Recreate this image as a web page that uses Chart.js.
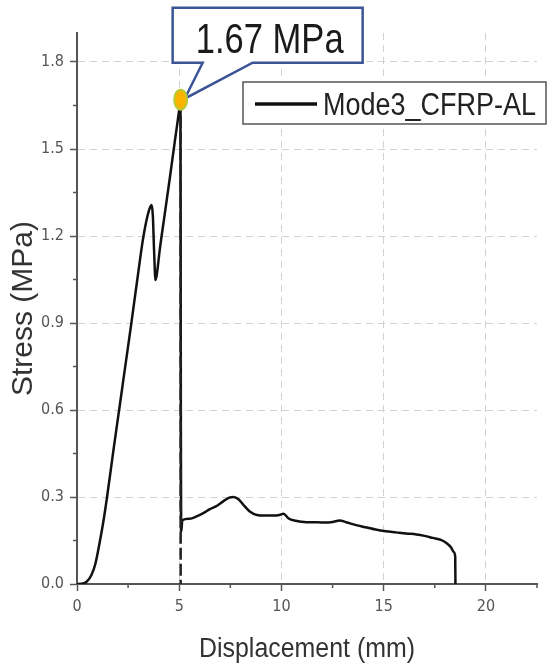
<!DOCTYPE html>
<html>
<head>
<meta charset="utf-8">
<script src="https://cdn.jsdelivr.net/npm/chart.js@4"></script>
<style>
    html, body { margin: 0; padding: 0; background: #fff; }
    #wrap { width: 549px; height: 666px; }
</style>
</head>
<body>
<div id="wrap"><canvas id="stress-chart" width="549" height="666"></canvas></div>
<script>
const seriesLabel = "Mode3_CFRP-AL";
const xTitle = "Displacement (mm)";
const yTitle = "Stress (MPa)";

const displacement = [
    0, 0.3, 0.5, 0.7, 0.9, 1.1, 1.3, 1.47, 1.8, 2.1, 2.4, 2.64, 2.95, 3.23, 3.45, 3.58, 3.65,
    3.71, 3.77, 3.84, 3.9, 4.05, 4.25, 4.54, 4.8, 4.98, 5.06,
    5.08, 5.1, 5.15, 5.5, 5.85, 6.2, 6.5, 6.85, 7.15, 7.45, 7.65, 7.9, 8.15, 8.45, 8.8,
    9.2, 9.6, 9.9, 10.1, 10.35, 10.7, 11.1, 11.6, 12.1, 12.5, 12.85, 13.2, 13.65, 14.1,
    14.6, 15.1, 15.6, 16.1, 16.6, 17.0, 17.4, 17.8, 18.1, 18.3, 18.43, 18.5, 18.51
];
const stress = [
    0, 0.002, 0.01, 0.03, 0.07, 0.14, 0.22, 0.30, 0.47, 0.62, 0.77, 0.89, 1.05, 1.19, 1.27, 1.30, 1.307,
    1.27, 1.15, 1.048, 1.065, 1.154, 1.255, 1.40, 1.534, 1.625, 1.67,
    0.60, 0.18, 0.22, 0.225, 0.233, 0.245, 0.258, 0.27, 0.285, 0.298, 0.30, 0.292, 0.272, 0.25, 0.238,
    0.236, 0.236, 0.238, 0.242, 0.226, 0.218, 0.214, 0.213, 0.212, 0.214, 0.219, 0.212, 0.203, 0.196,
    0.188, 0.182, 0.178, 0.174, 0.171, 0.166, 0.159, 0.152, 0.14, 0.126, 0.11, 0.094, 0
];

const xTicks = [0, 5, 10, 15, 20];
const xMinorTicks = [2.5, 7.5, 12.5, 17.5, 22.5];
const yTicks = [0, 0.3, 0.6, 0.9, 1.2, 1.5, 1.8];
const yMinorTicks = [0.15, 0.45, 0.75, 1.05, 1.35, 1.65];

const peakX = 5.07;
const peakY = 1.67;
const peakText = "1.67 MPa";

const sansFont = '"Liberation Sans", Arial, sans-serif';
const tickFont = '"DejaVu Sans Condensed", "Liberation Sans Narrow", sans-serif';
const axisColor = "#555";

// the source uses a condensed face, so squeeze regular Liberation Sans to the measured width
function drawSqueezed(ctx, text, x, baseline, size, width, align) {
    ctx.save();
    ctx.font = size + "px " + sansFont;
    ctx.textBaseline = "alphabetic";
    ctx.textAlign = "left";
    const natural = ctx.measureText(text).width;
    const k = width / natural;
    const startX = align === "center" ? x - width / 2 : x;
    ctx.translate(startX, baseline);
    ctx.scale(k, 1);
    ctx.fillText(text, 0, 0);
    ctx.restore();
}

const decorations = {
    id: "decorations",
    afterDatasetsDraw(chart) {
        const { ctx, chartArea, scales } = chart;
        const xs = scales.x;
        const ys = scales.y;

        ctx.save();
        ctx.strokeStyle = axisColor;
        ctx.lineWidth = 1.5;
        xMinorTicks.forEach((v) => {
            const px = xs.getPixelForValue(v);
            ctx.beginPath();
            ctx.moveTo(px, chartArea.bottom);
            ctx.lineTo(px, chartArea.bottom + 4);
            ctx.stroke();
        });
        yMinorTicks.forEach((v) => {
            const py = ys.getPixelForValue(v);
            ctx.beginPath();
            ctx.moveTo(chartArea.left, py);
            ctx.lineTo(chartArea.left - 4, py);
            ctx.stroke();
        });

        const px = xs.getPixelForValue(peakX);
        const py = ys.getPixelForValue(peakY);
        const py0 = ys.getPixelForValue(0);

        // dashed drop line under the peak
        ctx.strokeStyle = "#222";
        ctx.lineWidth = 2.5;
        ctx.setLineDash([12, 4]);
        ctx.beginPath();
        ctx.moveTo(px, py);
        ctx.lineTo(px, py0);
        ctx.stroke();
        ctx.setLineDash([]);

        // callout
        const left = px - 8, right = px + 182, top = py - 92, bottom = py - 37;
        ctx.beginPath();
        ctx.moveTo(left, top);
        ctx.lineTo(right, top);
        ctx.lineTo(right, bottom);
        ctx.lineTo(px + 72, bottom);
        ctx.lineTo(px + 4, py - 1);
        ctx.lineTo(px + 22, bottom);
        ctx.lineTo(left, bottom);
        ctx.closePath();
        ctx.fillStyle = "#fff";
        ctx.fill();
        ctx.strokeStyle = "#3b5596";
        ctx.lineWidth = 2.5;
        ctx.stroke();
        ctx.fillStyle = "#1a1a1a";
        drawSqueezed(ctx, peakText, (left + right) / 2 + 2, bottom - 10, 43, 148, "center");

        // peak marker
        ctx.beginPath();
        ctx.ellipse(px, py, 6.5, 10, 0, 0, Math.PI * 2);
        ctx.fillStyle = "#f8b400";
        ctx.fill();
        ctx.strokeStyle = "#b5cc3a";
        ctx.lineWidth = 2;
        ctx.stroke();

        // legend box
        const lx = chartArea.right - 294, ly = chartArea.top + 49;
        ctx.fillStyle = "#fff";
        ctx.fillRect(lx, ly, 303, 42);
        ctx.strokeStyle = "#555";
        ctx.lineWidth = 1.5;
        ctx.strokeRect(lx, ly, 303, 42);
        ctx.strokeStyle = "#111";
        ctx.lineWidth = 3.5;
        ctx.beginPath();
        ctx.moveTo(lx + 12, ly + 22);
        ctx.lineTo(lx + 74, ly + 22);
        ctx.stroke();
        ctx.fillStyle = "#222";
        drawSqueezed(ctx, chart.data.datasets[0].label, lx + 80, ly + 33, 31, 213, "left");

        // x axis title
        ctx.fillStyle = "#333";
        drawSqueezed(ctx, xTitle, (chartArea.left + chartArea.right) / 2, 657, 27, 216, "center");
        ctx.restore();
    }
};

const ctx = document.getElementById("stress-chart");

new Chart(ctx, {
    type: "line",
    data: {
        datasets: [
            {
                label: seriesLabel,
                data: displacement.map((x, i) => ({ x, y: stress[i] })),
                borderColor: "#111",
                borderWidth: 2.5,
                pointRadius: 0,
                cubicInterpolationMode: "monotone",
                fill: false
            }
        ]
    },
    options: {
        responsive: false,
        animation: false,
        devicePixelRatio: 1,
        layout: { padding: { top: 33, right: 12, left: 0, bottom: 0 } },
        plugins: {
            legend: { display: false },
            tooltip: { enabled: false }
        },
        scales: {
            x: {
                type: "linear",
                min: 0,
                max: 22.5,
                afterBuildTicks: (scale) => {
                    scale.ticks = xTicks.map((v) => ({ value: v }));
                },
                afterFit: (scale) => {
                    scale.height = 82;
                },
                ticks: {
                    color: axisColor,
                    padding: 6,
                    font: { family: tickFont, size: 16 },
                    maxRotation: 0
                },
                grid: {
                    color: "#d2d2d2",
                    lineWidth: 1,
                    tickColor: axisColor,
                    tickLength: 7,
                    tickWidth: 1.5
                },
                border: { display: true, color: axisColor, width: 2, dash: [7, 5] }
            },
            y: {
                type: "linear",
                min: 0,
                max: 1.9,
                afterBuildTicks: (scale) => {
                    scale.ticks = yTicks.map((v) => ({ value: v }));
                },
                afterFit: (scale) => {
                    scale.width = 77;
                },
                ticks: {
                    color: axisColor,
                    padding: 6,
                    font: { family: tickFont, size: 16 },
                    callback: (v) => v.toFixed(1)
                },
                grid: {
                    color: "#d2d2d2",
                    lineWidth: 1,
                    tickColor: axisColor,
                    tickLength: 7,
                    tickWidth: 1.5
                },
                border: { display: true, color: axisColor, width: 2, dash: [7, 5] },
                title: {
                    display: true,
                    text: yTitle,
                    color: "#333",
                    font: { family: sansFont, size: 30, lineHeight: 1 },
                    padding: { top: 9, bottom: 0 }
                }
            }
        }
    },
    plugins: [decorations]
});
</script>
</body>
</html>
